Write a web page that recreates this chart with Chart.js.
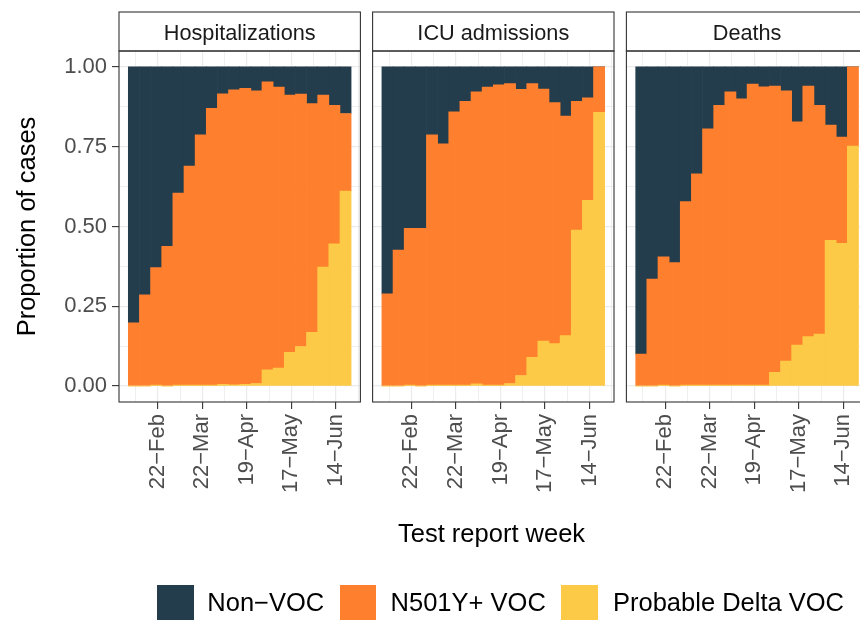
<!DOCTYPE html>
<html>
<head>
<meta charset="utf-8">
<script src="https://cdn.jsdelivr.net/npm/chart.js@4.4.0/dist/chart.umd.min.js"></script>
<style>
    html, body { margin: 0; padding: 0; background: #fff; overflow: hidden; }
    #wrap { position: relative; width: 880px; height: 620px; font-family: "Liberation Sans", Arial, Helvetica, sans-serif; }
    #wrap canvas { position: absolute; left: 0; top: 0; }
    .txt { position: absolute; font-size: 25.5px; line-height: 25.5px; color: #000; white-space: nowrap; }
    .key { position: absolute; top: 585px; width: 36.5px; height: 36.5px; }
</style>
</head>
<body>
<div id="wrap">
    <canvas id="p0" width="880" height="620"></canvas>
    <canvas id="p1" width="880" height="620"></canvas>
    <canvas id="p2" width="880" height="620"></canvas>

    <div class="txt" style="left:398px; top:521px;">Test report week</div>

    <div class="key" style="left:157.3px; background:#233D4D;"></div>
    <div class="txt" id="leg0" style="left:207.3px; top:590px;"></div>
    <div class="key" style="left:339.6px; background:#FE7F2D;"></div>
    <div class="txt" id="leg1" style="left:390.6px; top:590px;"></div>
    <div class="key" style="left:561.4px; background:#FCCA46;"></div>
    <div class="txt" id="leg2" style="left:613px; top:590px;"></div>
</div>

<script>
// weekly bars, one date per bar
const weeks = ["2021-02-07", "2021-02-14", "2021-02-21", "2021-02-28", "2021-03-07",
    "2021-03-14", "2021-03-21", "2021-03-28", "2021-04-04", "2021-04-11",
    "2021-04-18", "2021-04-25", "2021-05-02", "2021-05-09", "2021-05-16",
    "2021-05-23", "2021-05-30", "2021-06-06", "2021-06-13", "2021-06-20"];

const tickDates = ["2021-02-22", "2021-03-22", "2021-04-19", "2021-05-17", "2021-06-14"];
const tickLabels = ["22\u2212Feb", "22\u2212Mar", "19\u2212Apr", "17\u2212May", "14\u2212Jun"];
const yTicks = [0, 0.25, 0.5, 0.75, 1];

const seriesNames = ["Non\u2212VOC", "N501Y+ VOC", "Probable Delta VOC"];
const seriesColours = ["#233D4D", "#FE7F2D", "#FCCA46"];
const panelTitles = ["Hospitalizations", "ICU admissions", "Deaths"];

// Hospitalizations
const hospNonVoc = [0.802, 0.714, 0.629, 0.562, 0.395, 0.311, 0.213, 0.130, 0.084, 0.072,
    0.067, 0.075, 0.047, 0.063, 0.088, 0.085, 0.115, 0.088, 0.120, 0.146];
const hospN501Y = [0.198, 0.286, 0.368, 0.438, 0.602, 0.686, 0.784, 0.867, 0.911, 0.924,
    0.928, 0.917, 0.902, 0.881, 0.806, 0.791, 0.717, 0.539, 0.434, 0.243];
const hospDelta = [0.000, 0.000, 0.003, 0.000, 0.003, 0.003, 0.003, 0.003, 0.005, 0.004,
    0.005, 0.008, 0.051, 0.056, 0.106, 0.124, 0.168, 0.373, 0.446, 0.611];

// ICU admissions
const icuNonVoc = [0.711, 0.574, 0.506, 0.506, 0.213, 0.241, 0.141, 0.108, 0.078, 0.063,
    0.056, 0.052, 0.070, 0.052, 0.069, 0.112, 0.154, 0.108, 0.097, 0.000];
const icuN501Y = [0.289, 0.426, 0.491, 0.494, 0.784, 0.756, 0.856, 0.889, 0.915, 0.934,
    0.941, 0.940, 0.897, 0.858, 0.790, 0.755, 0.688, 0.403, 0.321, 0.142];
const icuDelta = [0.000, 0.000, 0.003, 0.000, 0.003, 0.003, 0.003, 0.003, 0.007, 0.003,
    0.003, 0.008, 0.033, 0.090, 0.141, 0.133, 0.158, 0.489, 0.582, 0.858];

// Deaths
const deathNonVoc = [0.900, 0.665, 0.595, 0.613, 0.422, 0.335, 0.194, 0.120, 0.078, 0.100,
    0.054, 0.062, 0.060, 0.075, 0.172, 0.060, 0.120, 0.182, 0.220, 0.000];
const deathN501Y = [0.100, 0.335, 0.402, 0.387, 0.575, 0.662, 0.803, 0.877, 0.919, 0.897,
    0.943, 0.935, 0.897, 0.847, 0.700, 0.785, 0.717, 0.361, 0.333, 0.248];
const deathDelta = [0.000, 0.000, 0.003, 0.000, 0.003, 0.003, 0.003, 0.003, 0.003, 0.003,
    0.003, 0.003, 0.043, 0.078, 0.128, 0.155, 0.163, 0.457, 0.447, 0.752];

const panelData = [
    [hospNonVoc, hospN501Y, hospDelta],
    [icuNonVoc, icuN501Y, icuDelta],
    [deathNonVoc, deathN501Y, deathDelta]
];

// layout (pixels)
const canvasW = 880;
const panelLeft = [119, 372.6, 626.4];
const panelW = 241.4;
const stripTop = 12;
const panelTop = 51;

Chart.defaults.font.family = "'Liberation Sans', Arial, Helvetica, sans-serif";

function dayNum(s) {
    return Date.parse(s + "T00:00:00Z") / 864e5;
}

const weekDays = weeks.map(dayNum);
const tickDays = tickDates.map(dayNum);

// major + minor grid positions
let xGrid = [];
for (let d = tickDays[0] - 14; d <= tickDays[tickDays.length - 1] + 14; d += 14) xGrid.push(d);
let yGrid = [];
for (let i = 0; i < yTicks.length; i++) {
    yGrid.push(yTicks[i]);
    if (i < yTicks.length - 1) yGrid.push((yTicks[i] + yTicks[i + 1]) / 2);
}

for (let i = 0; i < seriesNames.length; i++) {
    document.getElementById("leg" + i).textContent = seriesNames[i];
}

const panelFrame = {
    id: "panelFrame",
    afterDraw(chart, args, opts) {
        const ctx = chart.ctx;
        const a = chart.chartArea;
        ctx.save();
        ctx.fillStyle = "#fff";
        ctx.fillRect(a.left, stripTop, a.right - a.left, a.top - stripTop);
        ctx.strokeStyle = "#333333";
        ctx.lineWidth = 1.1;
        ctx.strokeRect(a.left, stripTop, a.right - a.left, a.top - stripTop);
        ctx.strokeRect(a.left, a.top, a.right - a.left, a.bottom - a.top);
        ctx.fillStyle = "#1A1A1A";
        ctx.font = "21.7px 'Liberation Sans', Arial, Helvetica, sans-serif";
        ctx.textAlign = "center";
        ctx.textBaseline = "alphabetic";
        ctx.fillText(opts.title, (a.left + a.right) / 2, 39.5);
        ctx.restore();
    }
};

function isMajorX(v) { return tickDays.indexOf(v) >= 0; }
function isMajorY(v) { return yTicks.indexOf(v) >= 0; }

function lagPanel(k) {
    const vals = panelData[k];
    // bottom to top: delta, N501Y, non-VOC
    const datasets = [2, 1, 0].map(s => ({
        label: seriesNames[s],
        data: weekDays.map((d, i) => ({ x: d, y: vals[s][i] })),
        backgroundColor: seriesColours[s],
        borderWidth: 0,
        barPercentage: 1,
        categoryPercentage: 1
    }));

    const first = k === 0;

    new Chart(document.getElementById("p" + k), {
        type: "bar",
        data: { datasets: datasets },
        options: {
            responsive: false,
            animation: false,
            events: [],
            layout: {
                padding: {
                    left: first ? 0 : panelLeft[k],
                    right: canvasW - panelLeft[k] - panelW,
                    top: panelTop,
                    bottom: 118
                }
            },
            plugins: {
                legend: { display: false },
                tooltip: { enabled: false },
                panelFrame: { title: panelTitles[k] }
            },
            scales: {
                x: {
                    type: "linear",
                    stacked: true,
                    offset: false,
                    min: weekDays[0] - 9.35,
                    max: weekDays[weekDays.length - 1] + 9.35,
                    afterBuildTicks: s => { s.ticks = xGrid.map(v => ({ value: v })); },
                    afterFit: s => { s.height = 100; s.paddingLeft = 0; s.paddingRight = 0; },
                    ticks: {
                        autoSkip: false,
                        minRotation: 90,
                        maxRotation: 90,
                        padding: 5,
                        color: "#4D4D4D",
                        font: { size: 22 },
                        callback: v => isMajorX(v) ? tickLabels[tickDays.indexOf(v)] : ""
                    },
                    grid: {
                        offset: false,
                        color: "#EBEBEB",
                        lineWidth: c => (c.tick && isMajorX(c.tick.value)) ? 1.2 : 0.8,
                        tickLength: 7,
                        tickWidth: 1.1,
                        tickColor: c => (c.tick && isMajorX(c.tick.value)) ? "#333333" : "rgba(0,0,0,0)"
                    },
                    border: { display: false }
                },
                y: {
                    stacked: true,
                    min: -0.05,
                    max: 1.05,
                    afterBuildTicks: s => { s.ticks = yGrid.map(v => ({ value: v })); },
                    afterFit: s => { s.width = first ? panelLeft[0] : 0; s.paddingTop = 0; s.paddingBottom = 0; },
                    ticks: {
                        display: first,
                        padding: 5,
                        color: "#4D4D4D",
                        font: { size: 22 },
                        callback: v => isMajorY(v) ? v.toFixed(2) : ""
                    },
                    grid: {
                        color: "#EBEBEB",
                        lineWidth: c => (c.tick && isMajorY(c.tick.value)) ? 1.2 : 0.8,
                        drawTicks: first,
                        tickLength: 7,
                        tickWidth: 1.1,
                        tickColor: c => (c.tick && isMajorY(c.tick.value)) ? "#333333" : "rgba(0,0,0,0)"
                    },
                    border: { display: false },
                    title: {
                        display: first,
                        text: "Proportion of cases",
                        color: "#000",
                        font: { size: 25.5 },
                        padding: { top: 12.9, bottom: 0 }
                    }
                }
            }
        },
        plugins: [panelFrame]
    });
}

for (let k = 0; k < 3; k++) lagPanel(k);
</script>
</body>
</html>
